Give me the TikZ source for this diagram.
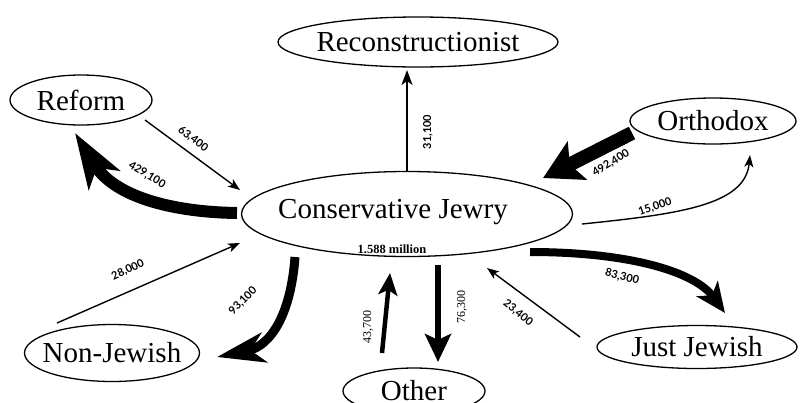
\documentclass[tikz,border=0pt]{standalone}
\usepackage{fontspec}
\setmainfont{Liberation Serif}
\newfontfamily\lblfont{Lato}
\usetikzlibrary{arrows.meta,shapes.geometric,calc}
\begin{document}
\begin{tikzpicture}[x=1pt,y=-1pt,
  oval/.style={draw, ellipse, line width=1.3pt, inner sep=0pt, font=\fontsize{29}{30}\selectfont},
  bigtext/.style={inner sep=0pt, font=\fontsize{29}{30}\selectfont},
  flowlbl/.style={inner sep=0pt, font=\lblfont\bfseries\fontsize{11}{12}\selectfont},
  serlbl/.style={inner sep=0pt, font=\fontsize{12}{13}\selectfont},
  flowthin/.style={line width=1.4pt, -{Stealth[length=12pt,width=9pt,inset=3pt]}},
  flowupr/.style={line width=2pt, -{Stealth[length=15pt,width=11pt,inset=4pt]}},
]
\fill[white] (0,0) rectangle (810,402);
\useasboundingbox (0,0) rectangle (810,402);

% nodes
\node[oval, minimum width=331pt, minimum height=85pt] (cj) at (407,214) {};
\node[bigtext] (cjt) at (393,212) {Conservative Jewry};
\node[inner sep=0pt, font=\bfseries\fontsize{12.5}{13}\selectfont] (cjn) at (392,249) {1.588 million};
\node[oval, minimum width=280pt, minimum height=50pt] (rec) at (418,42) {\makebox[0pt]{Reconstructionist}};
\node[oval, minimum width=142pt, minimum height=50pt] (ref) at (81,100) {\makebox[0pt]{Reform}};
\node[oval, minimum width=166pt, minimum height=46pt] (orth) at (713,121) {\makebox[0pt]{Orthodox}};
\node[oval, minimum width=175pt, minimum height=57pt] (nonj) at (112,353) {\makebox[0pt]{Non-Jewish}};
\node[oval, minimum width=142pt, minimum height=46pt] (oth) at (414,391) {\makebox[0pt]{Other}};
\node[oval, minimum width=200pt, minimum height=43pt] (jj) at (697,347) {\makebox[0pt]{Just Jewish}};

% connectors
% Reform -> Conservative (63,400)
\draw[flowthin] ($(ref)+(64,20)$) -- ($(cj)+(-167,-24)$);
% Conservative -> Reform (429,100)
\draw[line width=12pt, -{Stealth[length=55pt,width=36pt,inset=14pt]}]
  ($(cj)+(-170,-1)$) .. controls (170,212) and (114,196) .. ($(ref)+(-6,33)$);
% Orthodox -> Conservative (492,400)
\draw[line width=14pt, -{Stealth[length=38pt,width=42pt,inset=8pt]}]
  ($(orth)+(-81,12)$) -- ($(cj)+(136,-36)$);
% Conservative -> Orthodox (15,000)
\draw[flowthin] ($(cj)+(175,10)$) .. controls (680,214) and (745,205) .. ($(orth)+(37,34)$);
% Non-Jewish -> Conservative (28,000)
\draw[flowthin] ($(nonj)+(-55,-30)$) -- ($(cj)+(-167,29)$);
% Conservative -> Non-Jewish (93,100)
\draw[line width=9pt, -{Stealth[length=48pt,width=30pt,inset=14pt]}]
  ($(cj)+(-112,43)$) .. controls (291,312) and (272,346) .. ($(nonj)+(105,4)$);
% Other -> Conservative (43,700)
\draw[line width=4.5pt, -{Stealth[length=22pt,width=19pt,inset=5pt]}]
  ($(oth)+(-32,-38)$) -- ($(cj)+(-17,59)$);
% Conservative -> Other (76,300)
\draw[line width=6.5pt, -{Stealth[length=28pt,width=26pt,inset=6pt]}]
  ($(cj)+(31,51)$) -- ($(oth)+(24,-29)$);
% Just Jewish -> Conservative (23,400)
\draw[flowthin] ($(jj)+(-117,-10)$) -- ($(cj)+(80,54)$);
% Conservative -> Just Jewish (83,300)
\draw[line width=8pt, -{Stealth[length=30pt,width=26pt,inset=8pt]}]
  ($(cj)+(123,38)$) .. controls (630,252) and (695,272) .. ($(jj)+(28,-34)$);
% Conservative -> Reconstructionist (31,100)
\draw[flowupr] ($(cj)+(0,-42)$) -- ($(rec)+(-11,28)$);

% labels
\node[flowlbl, rotate=-37] (l1) at (193,139) {63,400};
\node[flowlbl, rotate=-31] (l2) at (147,175) {429,100};
\node[flowlbl, rotate=31] (l3) at (611,163) {492,400};
\node[flowlbl, rotate=19] (l4) at (655,207) {15,000};
\node[flowlbl, rotate=25] (l5) at (128,270) {28,000};
\node[flowlbl, rotate=45] (l6) at (243,301) {93,100};
\node[serlbl, rotate=90] (l7) at (368,327) {43,700};
\node[serlbl, rotate=90] (l8) at (462,307) {76,300};
\node[flowlbl, rotate=-39] (l9) at (518,313) {23,400};
\node[flowlbl, rotate=-14] (l10) at (622,277) {83,300};
\node[flowlbl, rotate=90] (l11) at (428,132) {31,100};
\end{tikzpicture}
\end{document}
